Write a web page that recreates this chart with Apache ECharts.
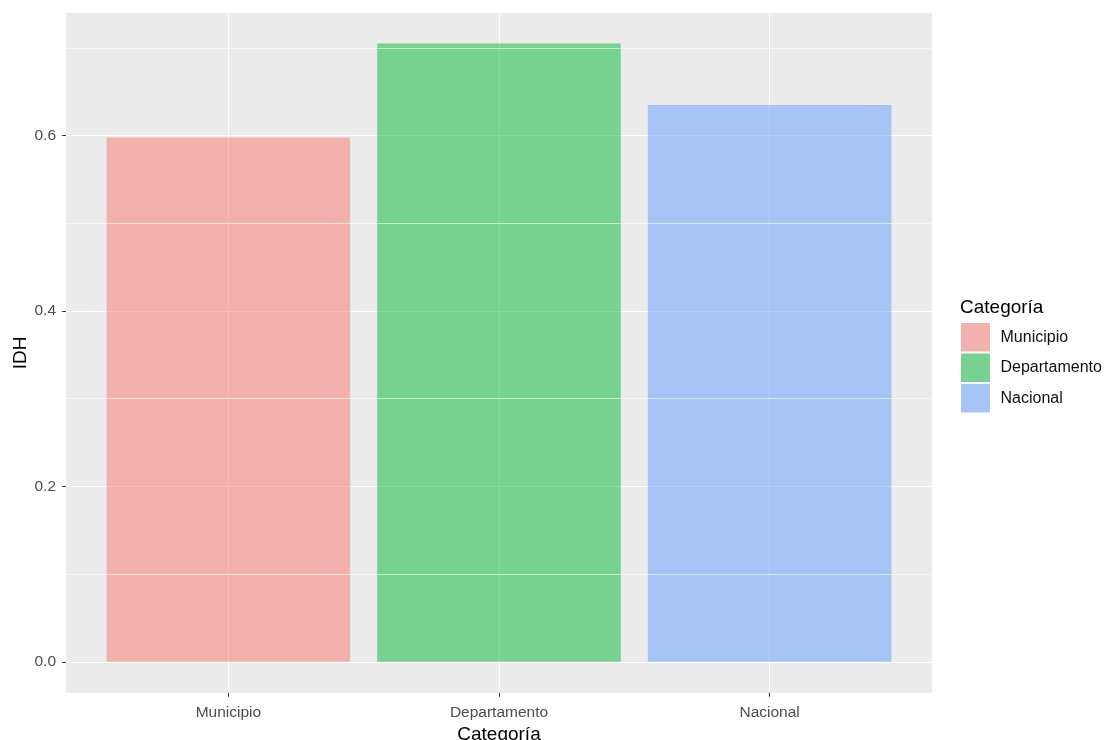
<!DOCTYPE html>
<html>
<head>
<meta charset="utf-8">
<script src="https://cdn.jsdelivr.net/npm/echarts@6/dist/echarts.min.js"></script>
<style>
html,body{margin:0;padding:0;background:#fff;}
#c{width:1104px;height:740px;}
</style>
</head>
<body>
<div id="c"></div>
<script>
var categories = ['Municipio', 'Departamento', 'Nacional'];
var idh = [0.598, 0.705, 0.635];
var yTicks = [0, 0.2, 0.4, 0.6];
var yMinor = [0.1, 0.3, 0.5, 0.7];
var yTickLabels = ['0.0', '0.2', '0.4', '0.6'];

var barColors = ['rgba(248,118,109,0.5)', 'rgba(0,186,56,0.5)', 'rgba(97,156,255,0.5)'];
var keyColors = ['#F3B1AD', '#77D28F', '#A6C4F6'];
var FONT = '"Liberation Sans", Arial, sans-serif';

var ymax = Math.max.apply(null, idh);
var yMin = -0.05 * ymax, yMax = ymax * 1.05;

var chart = echarts.init(document.getElementById('c'));

var series = categories.map(function (name, i) {
  return {
    name: name,
    type: 'bar',
    xAxisIndex: 1,
    yAxisIndex: 1,
    barWidth: '90%',
    barGap: '-100%',
    z: 3,
    itemStyle: { color: barColors[i] },
    data: categories.map(function (c, j) { return j === i ? idh[j] : '-'; })
  };
});
series.unshift({
  type: 'line',
  xAxisIndex: 0,
  yAxisIndex: 0,
  z: 1,
  silent: true,
  data: categories.map(function () { return '-'; }),
  markLine: {
    silent: true,
    symbol: 'none',
    animation: false,
    label: { show: false },
    lineStyle: { color: '#ffffff', width: 0.6, type: 'solid' },
    data: yMinor.map(function (v) { return { yAxis: v }; })
  }
});

chart.setOption({
  animation: false,
  textStyle: { fontFamily: FONT },
  grid: [
    { left: 66, right: 172, top: 12.7, bottom: 47.3, show: true, backgroundColor: '#EBEBEB', borderWidth: 0, containLabel: false, outerBoundsMode: 'none' },
    { left: 93.06, right: 199.06, top: 12.7, bottom: 47.3, show: false, containLabel: false, outerBoundsMode: 'none' }
  ],
  xAxis: [
    { type: 'category', gridIndex: 0, data: categories, show: false },
    {
      type: 'category', gridIndex: 1, data: categories, boundaryGap: true,
      name: 'Categoría', nameLocation: 'middle', nameGap: 29,
      nameTextStyle: { color: '#000', fontSize: 19, fontFamily: FONT },
      axisLine: { show: false, onZero: false },
      axisTick: { show: true, alignWithLabel: true, length: 4, lineStyle: { color: '#333333', width: 1 } },
      axisLabel: { color: '#4D4D4D', fontSize: 15.5, margin: 12, fontFamily: FONT },
      splitLine: { show: true, alignWithLabel: true, lineStyle: { color: '#ffffff', width: 1.1 } }
    }
  ],
  yAxis: [
    {
      type: 'value', gridIndex: 0, min: yMin, max: yMax,
      axisLine: { show: false, onZero: false },
      axisTick: { show: true, length: 4, customValues: yTicks, lineStyle: { color: '#333333', width: 1 } },
      axisLabel: {
        color: '#4D4D4D', fontSize: 15.5, margin: 10, fontFamily: FONT,
        customValues: yTicks,
        formatter: function (v) { var k = yTicks.indexOf(v); return k >= 0 ? yTickLabels[k] : v.toFixed(1); }
      },
      splitLine: { show: true, lineStyle: { color: '#ffffff', width: 1.1 } }
    },
    {
      type: 'value', gridIndex: 1, min: yMin, max: yMax, show: false,
      splitLine: { show: false }
    }
  ],
  legend: {
    orient: 'vertical',
    left: 961,
    top: 323,
    padding: 0,
    itemWidth: 29,
    itemHeight: 28.5,
    itemGap: 2,
    icon: 'rect',
    selectedMode: false,
    textStyle: { color: '#111111', fontSize: 16, fontFamily: FONT, padding: [0, 0, 0, 5.5] },
    data: categories.map(function (c, i) { return { name: c, itemStyle: { color: keyColors[i], opacity: 1 } }; })
  },
  graphic: [
    { type: 'text', left: 960, top: 298, style: { text: 'Categoría', fill: '#000', fontSize: 19, fontFamily: FONT } },
    { type: 'text', x: 21, y: 353, rotation: Math.PI / 2,
      style: { text: 'IDH', fill: '#000', fontSize: 19, fontFamily: FONT, align: 'center', verticalAlign: 'middle' } }
  ],
  series: series
});
</script>
</body>
</html>
